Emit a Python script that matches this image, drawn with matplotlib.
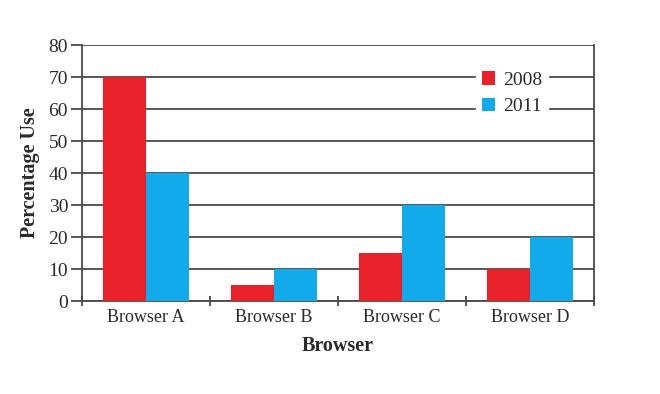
import numpy as np
import matplotlib.pyplot as plt

browsers = ["Browser A", "Browser B", "Browser C", "Browser D"]
use_2008 = [70, 5, 15, 10]
use_2011 = [40, 10, 30, 20]
y_ticks = [0, 10, 20, 30, 40, 50, 60, 70, 80]

plt.rcParams["font.family"] = ["Liberation Serif", "DejaVu Serif"]

red = "#E8212B"
blue = "#12AAEA"
grid_col = "#4a4a4a"
text_col = "#2a2a2a"

fig = plt.figure(figsize=(6.6, 3.94), dpi=100)
ax = fig.add_axes([0.1242, 0.236, 0.7758, 0.6497])

x = np.arange(len(browsers))
w = 0.336
ax.bar(x - w / 2, use_2008, w, color=red, label="2008", zorder=3)
ax.bar(x + w / 2, use_2011, w, color=blue, label="2011", zorder=3)

ax.set_xlim(-0.5, 3.5)
ax.set_ylim(0, 80)
ax.set_yticks(y_ticks)
ax.yaxis.grid(True, color=grid_col, linewidth=1.3, zorder=1)
ax.set_axisbelow(True)

ax.set_xticks(x)
ax.set_xticklabels(browsers, fontsize=13, color=text_col)
ax.set_xticks(np.arange(-0.5, 4.0, 1.0), minor=True)
ax.tick_params(axis="x", which="major", length=0, pad=6)
ax.tick_params(axis="x", which="minor", length=7, direction="inout",
               color=grid_col, width=1.3)
ax.tick_params(axis="y", length=8, width=1.3, color=grid_col, labelsize=14,
               labelcolor=text_col, pad=2)

for side in ["left", "bottom", "right"]:
    ax.spines[side].set_color(grid_col)
    ax.spines[side].set_linewidth(1.3)
ax.spines["top"].set_visible(False)

ax.set_xlabel("Browser", fontsize=14.5, fontweight="bold", color=text_col,
              labelpad=7)
ax.set_ylabel("Percentage Use", fontsize=14.5, fontweight="bold",
              color=text_col, labelpad=6)

leg = ax.legend(loc="upper left", bbox_to_anchor=(0.769, 0.92), frameon=True,
                fontsize=14, handlelength=0.7, handleheight=0.7,
                handletextpad=0.4, labelspacing=0.45, borderpad=0.3,
                borderaxespad=0, labelcolor=text_col)
leg.get_frame().set_edgecolor("white")
leg.get_frame().set_facecolor("white")
leg.get_frame().set_alpha(1)
leg.set_zorder(5)

fig.savefig("out.png", dpi=100)
